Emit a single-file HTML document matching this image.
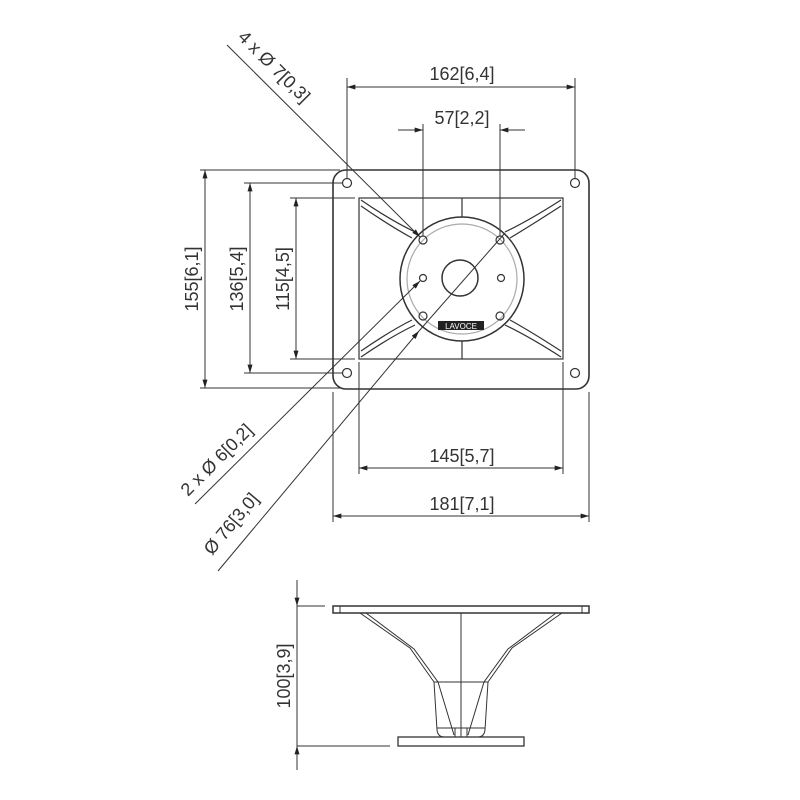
<!DOCTYPE html>
<html><head><style>body{margin:0;background:#fff}svg{display:block}text{font-family:"Liberation Sans",sans-serif;font-size:18px;fill:#333}</style></head>
<body>
<svg width="800" height="800" viewBox="0 0 800 800" xmlns="http://www.w3.org/2000/svg">
<defs><marker id="a" viewBox="0 0 10 6" refX="10" refY="3" markerWidth="12" markerHeight="5" orient="auto-start-reverse" markerUnits="userSpaceOnUse"><path d="M0,0L10,3L0,6z" fill="#222"/></marker></defs>
<g stroke="#333" stroke-width="1.2" fill="none">
<!-- plate -->
<rect x="333" y="170" width="256" height="219" rx="13" stroke-width="1.6"/>
<rect x="359" y="198" width="204" height="161"/>
<circle cx="347" cy="183" r="4.5"/><circle cx="575" cy="183" r="4.5"/><circle cx="347" cy="373" r="4.5"/><circle cx="575" cy="373" r="4.5"/>
<!-- horn ribs -->
<path d="M361,200 Q390,220 415,232 M361,206 Q390,226 412,238"/>
<path d="M561,200 Q530,220 505,232 M561,206 Q530,226 510,238"/>
<path d="M361,357 Q390,337 415,325 M361,351 Q390,331 412,320"/>
<path d="M561,357 Q530,337 505,325 M561,351 Q530,331 510,320"/>
<line x1="462" y1="198" x2="462" y2="217"/><line x1="462" y1="341" x2="462" y2="359"/>
<circle cx="462" cy="279" r="62" stroke-width="1.5"/>
<circle cx="462" cy="279" r="55" stroke="#aaa"/>
<circle cx="460" cy="278" r="18" stroke-width="1.5"/>
<circle cx="423" cy="240" r="4"/><circle cx="500" cy="240" r="4"/><circle cx="423" cy="278" r="3.5"/><circle cx="501" cy="278" r="3.5"/><circle cx="423" cy="316" r="4"/><circle cx="500" cy="316" r="4"/>
</g>
<rect x="438" y="321" width="46" height="9" fill="#222"/>
<text x="461" y="329" text-anchor="middle" style="font-size:8px;fill:#fff">LAVOCE</text>
<g stroke="#333" stroke-width="1" fill="none">
<!-- top dims -->
<line x1="347" y1="78" x2="347" y2="178"/><line x1="575" y1="78" x2="575" y2="178"/>
<line x1="347" y1="87" x2="575" y2="87" marker-start="url(#a)" marker-end="url(#a)"/>
<line x1="423" y1="124" x2="423" y2="236"/><line x1="500" y1="124" x2="500" y2="236"/>
<line x1="398" y1="130" x2="423" y2="130" marker-end="url(#a)"/><line x1="525" y1="130" x2="500" y2="130" marker-end="url(#a)"/>
<!-- left dims -->
<line x1="200" y1="170" x2="340" y2="170"/><line x1="200" y1="388" x2="340" y2="388"/>
<line x1="205" y1="170" x2="205" y2="388" marker-start="url(#a)" marker-end="url(#a)"/>
<line x1="244" y1="183" x2="342" y2="183"/><line x1="244" y1="373" x2="342" y2="373"/>
<line x1="250" y1="183" x2="250" y2="373" marker-start="url(#a)" marker-end="url(#a)"/>
<line x1="290" y1="198" x2="355" y2="198"/><line x1="290" y1="359" x2="355" y2="359"/>
<line x1="296" y1="198" x2="296" y2="359" marker-start="url(#a)" marker-end="url(#a)"/>
<!-- bottom dims -->
<line x1="359" y1="362" x2="359" y2="474"/><line x1="563" y1="362" x2="563" y2="474"/>
<line x1="359" y1="468" x2="563" y2="468" marker-start="url(#a)" marker-end="url(#a)"/>
<line x1="333" y1="392" x2="333" y2="522"/><line x1="589" y1="392" x2="589" y2="522"/>
<line x1="333" y1="516" x2="589" y2="516" marker-start="url(#a)" marker-end="url(#a)"/>
<!-- leaders -->
<line x1="227" y1="45" x2="420" y2="237" marker-end="url(#a)"/>
<line x1="195" y1="504" x2="420" y2="281" marker-end="url(#a)"/>
<line x1="218" y1="571" x2="419" y2="331" marker-end="url(#a)"/>
<line x1="419" y1="331" x2="505" y2="233"/>
<!-- side view -->
<rect x="333" y="606" width="256" height="7" stroke-width="1.5"/>
<line x1="340" y1="606" x2="340" y2="613"/><line x1="582" y1="606" x2="582" y2="613"/>
<rect x="398" y="737" width="126" height="9" stroke-width="1.3"/>
<line x1="461" y1="613" x2="461" y2="737"/>
<path d="M360,613 L410,648 L434,682 L437,730 Q438,737 444,737"/>
<path d="M366,613 L414,649 L438,682 L454,735"/>
<path d="M562,613 L512,648 L488,682 L485,730 Q484,737 478,737"/>
<path d="M556,613 L508,649 L484,682 L468,735"/>
<line x1="434" y1="682" x2="488" y2="682"/>
<line x1="437" y1="728" x2="485" y2="728"/>
<line x1="455" y1="728" x2="455" y2="737"/><line x1="467" y1="728" x2="467" y2="737"/>
<line x1="297" y1="606" x2="325" y2="606"/><line x1="297" y1="746" x2="390" y2="746"/>
<line x1="297" y1="580" x2="297" y2="606" marker-end="url(#a)"/>
<line x1="297" y1="770" x2="297" y2="746" marker-end="url(#a)"/>
<line x1="297" y1="606" x2="297" y2="746"/>
</g>
<text x="462" y="80" text-anchor="middle">162[6,4]</text>
<text x="462" y="124" text-anchor="middle">57[2,2]</text>
<text x="462" y="462" text-anchor="middle">145[5,7]</text>
<text x="462" y="510" text-anchor="middle">181[7,1]</text>
<text transform="translate(198,279) rotate(-90)" text-anchor="middle">155[6,1]</text>
<text transform="translate(243,279) rotate(-90)" text-anchor="middle">136[5,4]</text>
<text transform="translate(289,279) rotate(-90)" text-anchor="middle">115[4,5]</text>
<text transform="translate(290,676) rotate(-90)" text-anchor="middle">100[3,9]</text>
<text transform="translate(237,38) rotate(45)">4 x Ø 7[0,3]</text>
<text transform="translate(188,497) rotate(-45)">2 x Ø 6[0,2]</text>
<text transform="translate(212,556) rotate(-50)">Ø 76[3,0]</text>
</svg>
</body></html>
